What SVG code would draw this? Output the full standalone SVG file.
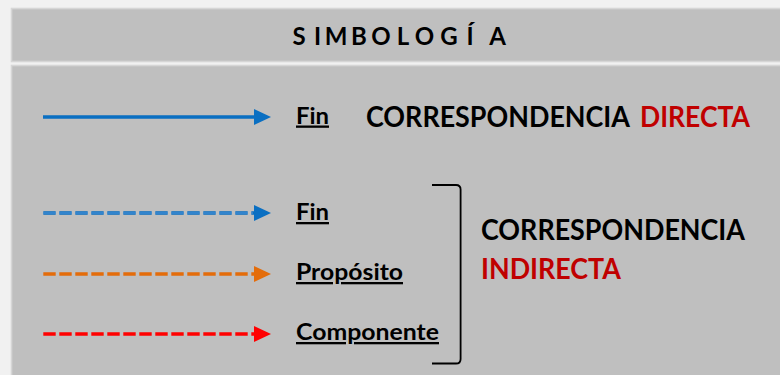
<svg xmlns="http://www.w3.org/2000/svg" width="780" height="375" viewBox="0 0 780 375">
  <defs>
    <style>
      .panel { fill: #bfbfbf; stroke: #d6d6d6; stroke-width: 1.6; }
      .lbl { font-family: Lato, "Liberation Sans", "DejaVu Sans", sans-serif; font-weight: bold; fill: #000000; }
      .small { font-size: 23px; text-decoration: underline; }
      .big { font-size: 28px; }
      .red { fill: #c00000; }
      .title { font-size: 24px; }
      .blue { stroke: #0a6fc2; stroke-width: 3.6; fill: none; }
      .bluehi { stroke: #5a9ad8; stroke-width: 1; fill: none; }
      .orange { stroke: #e46c0a; stroke-width: 3.6; fill: none; }
      .redl { stroke: #ff0000; stroke-width: 3.6; fill: none; }
      .dash { stroke-dasharray: 12.4 3.6; }
      .bracket { stroke: #000000; stroke-width: 1.8; fill: none; }
    </style>
    <marker id="ahBlue" markerUnits="userSpaceOnUse" markerWidth="17" markerHeight="16" refX="0" refY="8" orient="auto">
      <path d="M0,0 L17,8 L0,16 Z" fill="#0a6fc2"/>
    </marker>
    <marker id="ahOrange" markerUnits="userSpaceOnUse" markerWidth="17" markerHeight="16" refX="0" refY="8" orient="auto">
      <path d="M0,0 L17,8 L0,16 Z" fill="#e46c0a"/>
    </marker>
    <marker id="ahRed" markerUnits="userSpaceOnUse" markerWidth="17" markerHeight="16" refX="0" refY="8" orient="auto">
      <path d="M0,0 L17,8 L0,16 Z" fill="#ff0000"/>
    </marker>
  </defs>

  <rect x="0" y="0" width="780" height="375" fill="#f1f1f1"/>

  <g id="title">
    <rect class="panel" x="11.5" y="8.5" width="800" height="53"/>
    <text class="lbl title" text-anchor="middle" y="44.5" x="299 317.5 336 359 381 403 424.5 449 470 497.5">SIMBOLOGÍA</text>
  </g>

  <g id="body">
    <rect class="panel" x="11.5" y="65.5" width="800" height="400"/>
  </g>

  <g id="connectors">
    <line class="blue" x1="43" y1="117" x2="254" y2="117" marker-end="url(#ahBlue)"/>
    <line class="blue dash" x1="43.3" y1="213" x2="254" y2="213" marker-end="url(#ahBlue)"/>
    <line class="bluehi dash" x1="43.3" y1="213" x2="253" y2="213"/>
    <line class="orange dash" x1="43.3" y1="274" x2="254" y2="274" marker-end="url(#ahOrange)"/>
    <line class="redl dash" x1="43.3" y1="334" x2="254" y2="334" marker-end="url(#ahRed)"/>
  </g>

  <g id="fin-directo">
    <text class="lbl small" x="296" y="123.5" textLength="33" lengthAdjust="spacingAndGlyphs">Fin</text>
  </g>

  <g id="correspondencia-directa">
    <text class="lbl big" x="366" y="127" textLength="264" lengthAdjust="spacingAndGlyphs">CORRESPONDENCIA</text>
    <text class="lbl big red" x="640" y="127" textLength="110" lengthAdjust="spacingAndGlyphs">DIRECTA</text>
  </g>

  <g id="fin-indirecto">
    <text class="lbl small" x="296" y="220" textLength="33" lengthAdjust="spacingAndGlyphs">Fin</text>
  </g>

  <g id="proposito">
    <text class="lbl small" x="296" y="280" textLength="107" lengthAdjust="spacingAndGlyphs">Propósito</text>
  </g>

  <g id="componente">
    <text class="lbl small" x="296" y="340" textLength="143" lengthAdjust="spacingAndGlyphs">Componente</text>
  </g>

  <g id="bracket">
    <path class="bracket" d="M432,185 L456,185 Q460.6,185 460.6,189.6 L460.6,358.9 Q460.6,363.5 456,363.5 L432,363.5"/>
  </g>

  <g id="correspondencia-indirecta">
    <text class="lbl big" x="481" y="240" textLength="264" lengthAdjust="spacingAndGlyphs">CORRESPONDENCIA</text>
    <text class="lbl big red" x="481" y="278.5" textLength="140" lengthAdjust="spacingAndGlyphs">INDIRECTA</text>
  </g>
</svg>
